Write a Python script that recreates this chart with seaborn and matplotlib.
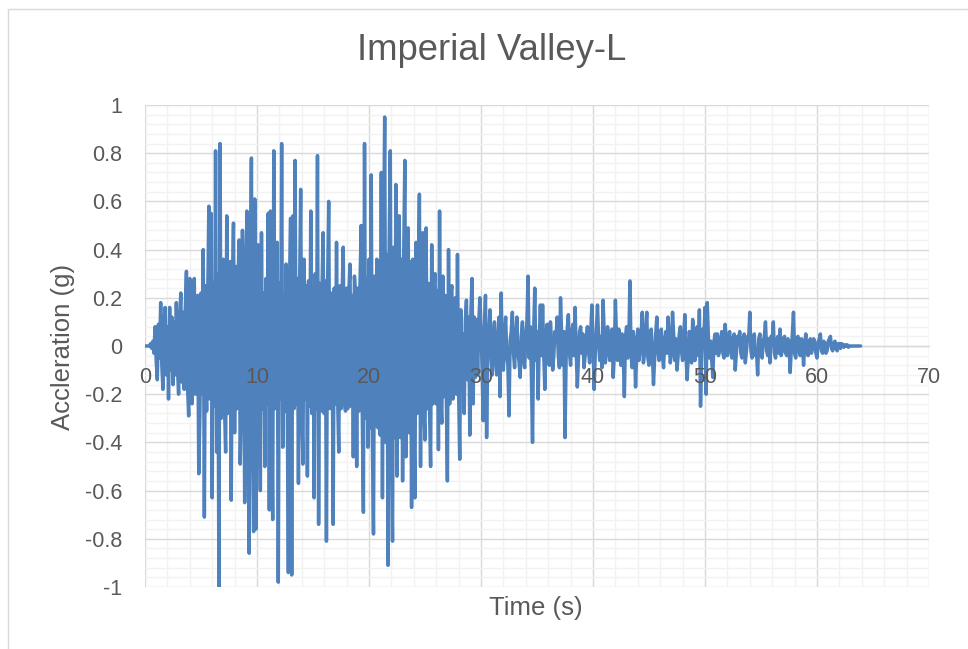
import numpy as np
import pandas as pd
import matplotlib
matplotlib.use("Agg")
import matplotlib.pyplot as plt
from matplotlib.ticker import MultipleLocator, FuncFormatter
from matplotlib.patches import Rectangle
import seaborn as sns

# ---------------- data ----------------
title = "Imperial Valley-L"
x_label = "Time (s)"
y_label = "Accleration (g)"
sample_step_s = 0.1
x_ticks = [0, 10, 20, 30, 40, 50, 60, 70]
y_ticks = [-1, -0.8, -0.6, -0.4, -0.2, 0, 0.2, 0.4, 0.6, 0.8, 1]

# ground acceleration, one row per second of record (0.1 s samples)
accel_g = [
    0, 0, 0, 0, 0, 0.01, -0.01, 0.02, -0.03, 0.08,
    -0.06, -0.14, 0.09, -0.05, 0.18, -0.08, -0.18, 0.10, 0.16, -0.12,
    0.08, -0.22, 0.16, -0.10, 0.12, -0.16, 0.10, -0.12, 0.18, -0.09,
    -0.20, 0.12, 0.22, -0.15, 0.14, -0.18, 0.16, 0.31, -0.17, -0.29,
    0.28, -0.15, -0.24, 0.19, 0.28, -0.20, 0.17, 0.21, -0.53, -0.29,
    0.22, -0.20, 0.40, -0.71, 0.25, -0.27, 0.20, 0.58, -0.22, 0.55,
    -0.63, 0.26, -0.25, 0.81, -0.44, 0.30, -1.00, 0.84, -0.30, 0.27,
    0.36, -0.25, -0.44, 0.54, -0.28, 0.24, 0.35, -0.64, 0.22, 0.51,
    -0.36, 0.33, -0.26, 0.25, 0.44, -0.49, -0.25, 0.48, 0.24, -0.65,
    0.27, 0.56, -0.30, -0.86, 0.28, 0.78, -0.32, -0.77, 0.61, -0.76,
    0.24, 0.42, -0.22, -0.60, 0.47, -0.26, 0.22, -0.50, 0.28, -0.24,
    0.55, -0.68, 0.56, -0.25, -0.72, 0.81, -0.26, 0.20, 0.43, -0.98,
    0.26, -0.22, 0.84, -0.42, 0.21, -0.27, 0.34, -0.22, -0.94, 0.25,
    0.53, -0.95, 0.54, -0.26, 0.77, -0.24, 0.28, -0.57, 0.22, 0.65,
    -0.28, -0.49, 0.36, -0.22, 0.25, -0.54, 0.27, -0.25, 0.56, -0.28,
    0.24, -0.63, 0.30, -0.26, 0.79, -0.74, 0.26, -0.27, 0.22, 0.47,
    -0.28, 0.27, -0.81, 0.24, 0.60, -0.26, 0.22, 0.20, -0.74, 0.24,
    -0.24, 0.43, -0.22, -0.44, 0.25, -0.26, 0.21, 0.41, -0.22, -0.27,
    0.24, -0.26, 0.22, 0.34, -0.25, 0.21, -0.46, 0.29, 0.20, -0.50,
    0.24, -0.27, 0.26, 0.50, -0.28, -0.69, 0.84, -0.30, 0.28, -0.42,
    0.36, -0.34, 0.71, -0.38, -0.78, 0.29, -0.33, 0.36, -0.34, 0.35,
    -0.37, 0.72, -0.63, 0.40, 0.95, -0.40, 0.38, -0.91, 0.42, 0.81,
    -0.40, -0.81, 0.41, -0.38, 0.67, -0.54, 0.40, 0.54, -0.38, 0.36,
    -0.56, 0.38, 0.77, -0.46, 0.37, 0.49, -0.36, 0.35, -0.67, 0.36,
    -0.28, -0.63, 0.43, -0.28, 0.27, 0.63, -0.50, 0.27, 0.47, -0.27,
    -0.39, 0.49, -0.26, 0.26, -0.25, -0.50, 0.42, -0.24, 0.25, 0.30,
    -0.24, 0.23, -0.43, 0.56, -0.22, -0.32, 0.29, -0.21, 0.21, -0.20,
    -0.56, 0.40, -0.24, 0.22, 0.25, -0.22, -0.13, 0.20, -0.20, 0.38,
    -0.18, -0.47, 0.15, -0.12, 0.05, -0.28, 0.10, 0.19, -0.14, 0.12,
    -0.37, 0.14, 0.28, -0.24, 0.12, -0.13, 0.11, -0.12, 0.10, 0.20,
    0.08, -0.10, -0.31, 0.06, 0.21, -0.38, -0.05, 0.06, 0.15, -0.04,
    -0.12, 0.04, 0.10, -0.06, -0.12, 0.03, 0.12, -0.21, 0.22, -0.05,
    -0.10, 0.05, 0.12, -0.04, -0.08, -0.29, 0.02, 0.06, 0.14, -0.03,
    -0.09, 0.03, 0.12, -0.02, -0.07, -0.13, 0.04, 0.10, -0.06, -0.09,
    0.04, 0.10, 0.29, -0.05, 0.08, -0.12, -0.40, 0.05, 0.24, -0.06,
    0.06, -0.22, 0.02, 0.17, -0.04, 0.17, -0.03, -0.18, 0.05, 0.09,
    -0.05, -0.08, 0.10, 0.02, -0.10, -0.04, 0.06, 0.03, 0.12, -0.04,
    -0.09, 0.20, 0.04, -0.08, 0.06, -0.38, -0.05, 0.07, 0.13, -0.03,
    -0.08, 0.05, 0.09, -0.04, 0.16, -0.02, -0.17, -0.05, 0.06, 0.08,
    -0.03, 0.05, -0.09, -0.04, 0.03, 0.08, -0.02, -0.07, 0.06, 0.17,
    0.02, -0.18, -0.04, 0.06, 0.17, 0.03, -0.06, 0.04, -0.09, 0.19,
    0.05, -0.07, -0.03, 0.08, 0.04, -0.06, 0.02, 0.07, -0.13, -0.04,
    0.19, 0.03, -0.06, 0.07, 0.02, -0.08, 0.05, -0.03, -0.21, 0.04,
    0.08, -0.05, 0.03, 0.27, -0.04, -0.09, 0.06, 0.02, -0.17, -0.03,
    0.07, -0.06, -0.02, 0.05, 0.14, -0.07, -0.03, 0.06, 0.14, -0.05,
    -0.08, 0.04, 0.07, -0.03, -0.16, -0.05, 0.05, 0.12, -0.02, -0.06,
    0.03, 0.07, -0.04, -0.09, 0.02, 0.06, -0.03, 0.12, 0.04, -0.07,
    -0.03, 0.14, 0.05, -0.06, 0.03, -0.10, -0.04, 0.05, 0.08, -0.02,
    -0.06, 0.04, 0.13, -0.03, -0.14, -0.05, 0.06, 0.02, -0.07, 0.11,
    0.03, -0.06, 0.05, 0.08, -0.04, 0.15, -0.25, -0.06, 0.07, 0.03,
    0.16, -0.20, 0.18, 0.04, -0.05, 0.02, -0.06, -0.13, 0.02, 0.05,
    -0.03, 0.05, -0.04, -0.02, 0.03, 0.06, -0.03, -0.05, 0.09, 0.02,
    -0.04, 0.04, 0.06, -0.02, -0.05, 0.03, 0.05, -0.10, -0.03, 0.04,
    0.02, 0.06, -0.03, -0.05, 0.03, 0.05, -0.07, -0.02, 0.04, 0.03,
    0.14, -0.02, -0.05, 0.03, 0.05, -0.04, -0.02, -0.12, 0.03, 0.05,
    -0.03, -0.05, 0.02, 0.04, 0.10, -0.02, -0.04, 0.03, -0.07, 0.04,
    0.02, 0.10, -0.03, -0.05, 0.02, 0.04, -0.03, 0.07, -0.04, -0.02,
    0.03, 0.04, -0.03, -0.04, 0.03, 0.02, -0.11, -0.02, 0.05, 0.14,
    -0.03, -0.05, 0.03, 0.04, -0.02, -0.04, 0.03, 0.02, -0.08, 0.01,
    0.05, -0.02, -0.04, 0.02, 0.03, -0.03, -0.01, 0.03, 0.02, -0.03,
    -0.05, 0.01, 0.03, 0.05, -0.02, -0.03, 0.02, 0.01, -0.03, -0.02,
    0.02, 0.03, 0.04, -0.01, -0.02, 0.01, 0.02, -0.01, -0.02, 0.01,
    0.01, -0.01, 0.01, 0.005, -0.005, 0.005, 0, 0.005, -0.005, 0,
    0, 0, 0, 0, 0, 0, 0, 0, 0, 0,
]

time_s = np.arange(len(accel_g)) * sample_step_s
df = pd.DataFrame({"time": time_s, "accel": accel_g})

# ---------------- styling ----------------
sns.set_theme(style="white")
plt.rcParams["font.family"] = ["Liberation Sans", "DejaVu Sans"]
text_color = "#595959"
line_color = "#4F81BD"
tick_size = 15.5
label_size = 18.5

fig = plt.figure(figsize=(9.68, 6.49), dpi=100)
fig.patch.set_facecolor("white")
pos = [145 / 968, 1 - 587 / 649, (929 - 145) / 968, (587 - 105) / 649]
ax = fig.add_axes(pos)

# outer chart border
fig.patches.append(Rectangle((8 / 968, -0.02), 1.05, 1 - 9 / 649 + 0.02,
                             transform=fig.transFigure, fill=False,
                             edgecolor="#D9D9D9", linewidth=1.0, zorder=0))

sns.lineplot(data=df, x="time", y="accel", ax=ax, color=line_color,
             linewidth=2.5, estimator=None, errorbar=None, zorder=3)

ax.set_xlim(0, 70)
ax.set_ylim(-1, 1)
ax.xaxis.set_minor_locator(MultipleLocator(2))
ax.yaxis.set_minor_locator(MultipleLocator(0.04))
ax.set_xticks(x_ticks)
ax.set_yticks(y_ticks)
ax.yaxis.set_major_formatter(FuncFormatter(lambda v, p: f"{v:g}"))

ax.grid(which="minor", color="#F2F2F2", linewidth=1.0)
ax.grid(which="major", color="#D9D9D9", linewidth=1.0)
ax.set_axisbelow(True)

for side in ["top", "right", "left"]:
    ax.spines[side].set_visible(False)
ax.spines["bottom"].set_position(("data", 0))
ax.spines["bottom"].set_color("#D9D9D9")
ax.spines["bottom"].set_linewidth(1.0)

ax.tick_params(axis="both", which="both", length=0, colors=text_color,
               labelsize=tick_size)
ax.tick_params(axis="x", labelbottom=False)
ax.tick_params(axis="y", pad=16.5)
ax.set_xlabel("")
ax.set_ylabel("")

# overlay axes so that the category labels sit on top of the trace
ax_lab = fig.add_axes(pos, sharex=ax)
ax_lab.set_ylim(-1, 1)
ax_lab.patch.set_visible(False)
for side in ["top", "right", "left"]:
    ax_lab.spines[side].set_visible(False)
ax_lab.spines["bottom"].set_position(("data", 0))
ax_lab.spines["bottom"].set_visible(False)
ax_lab.set_yticks([])
ax_lab.grid(False)
ax_lab.xaxis.set_major_formatter(FuncFormatter(lambda v, p: f"{v:g}"))
ax_lab.tick_params(axis="x", length=0, colors=text_color,
                   labelsize=tick_size, pad=15)
ax_lab.set_xlabel("")
ax_lab.set_ylabel("")

fig.text(536 / 968, 1 - 608 / 649, x_label, ha="center", va="center",
         fontsize=label_size, color=text_color)
fig.text(63 / 968, 1 - 347 / 649, y_label, ha="center", va="center",
         rotation=90, fontsize=label_size, color=text_color)
fig.text(492 / 968, 1 - 51 / 649, title, ha="center", va="center",
         fontsize=26.3, color=text_color)

fig.savefig("out.png", dpi=100, facecolor="white")
